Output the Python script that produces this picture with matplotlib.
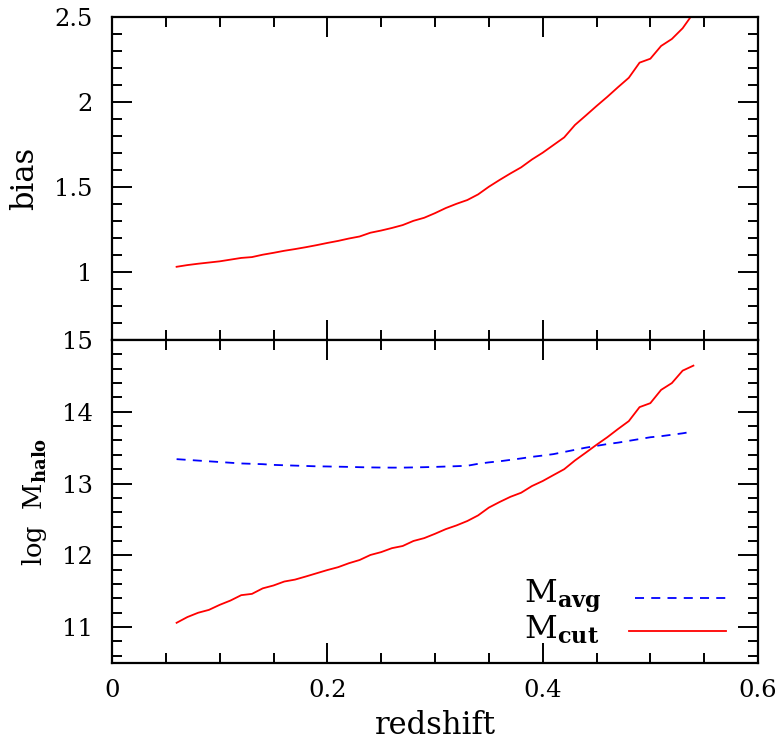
import numpy as np
import matplotlib
matplotlib.use("Agg")
import matplotlib.pyplot as plt
from matplotlib.ticker import MultipleLocator

plt.rcParams['font.family'] = ['DejaVu Serif']
plt.rcParams['mathtext.fontset'] = 'custom'
plt.rcParams['mathtext.rm'] = 'DejaVu Serif'
plt.rcParams['mathtext.bf'] = 'DejaVu Serif:bold'

redshift = np.round(np.arange(0.06, 0.545, 0.01), 2)

bias = [1.030, 1.040, 1.048, 1.055, 1.062, 1.072, 1.082, 1.087, 1.101, 1.112,
        1.124, 1.134, 1.145, 1.157, 1.170, 1.182, 1.196, 1.208, 1.230, 1.243,
        1.258, 1.275, 1.300, 1.318, 1.345, 1.375, 1.400, 1.422, 1.455, 1.500,
        1.540, 1.578, 1.614, 1.660, 1.700, 1.745, 1.790, 1.863, 1.918, 1.974,
        2.028, 2.085, 2.140, 2.229, 2.252, 2.327, 2.368, 2.431, 2.520]

m_avg = [13.34, 13.33, 13.32, 13.31, 13.30, 13.29, 13.28, 13.275, 13.27, 13.26,
         13.255, 13.25, 13.245, 13.24, 13.238, 13.235, 13.232, 13.228, 13.225, 13.223,
         13.222, 13.222, 13.225, 13.228, 13.232, 13.237, 13.242, 13.248, 13.275, 13.295,
         13.31, 13.33, 13.35, 13.372, 13.39, 13.41, 13.44, 13.47, 13.50, 13.525,
         13.55, 13.57, 13.595, 13.62, 13.645, 13.66, 13.68, 13.70, 13.725]

m_cut = [11.06, 11.14, 11.20, 11.24, 11.31, 11.37, 11.445, 11.463, 11.54, 11.58,
         11.635, 11.662, 11.705, 11.75, 11.795, 11.835, 11.89, 11.935, 12.005, 12.045,
         12.10, 12.13, 12.20, 12.24, 12.30, 12.365, 12.417, 12.478, 12.556, 12.665,
         12.743, 12.815, 12.872, 12.965, 13.035, 13.118, 13.20, 13.322, 13.43, 13.54,
         13.645, 13.76, 13.87, 14.065, 14.12, 14.305, 14.40, 14.573, 14.643]

W, H = 782, 742
fig = plt.figure(figsize=(W / 100, H / 100), dpi=100)
left, right = 112 / W, 758 / W
top, mid, bot = 1 - 16.5 / H, 1 - 340 / H, 1 - 663 / H
ax1 = fig.add_axes([left, mid, right - left, top - mid])
ax2 = fig.add_axes([left, bot, right - left, mid - bot], sharex=ax1)

for ax in (ax1, ax2):
    for s in ax.spines.values():
        s.set_linewidth(1.6)
    ax.tick_params(which='both', direction='in', top=True, right=True, width=1.4)
    ax.tick_params(which='major', length=14.5, labelsize=17.5)
    ax.tick_params(axis='y', which='major', pad=14)
    ax.tick_params(axis='x', which='major', pad=11.5)
    ax.tick_params(which='minor', length=7)
    ax.xaxis.set_major_locator(MultipleLocator(0.2))
    ax.xaxis.set_minor_locator(MultipleLocator(0.05))

ax1.plot(redshift, bias, color='red', lw=1.3)
ax1.set_xlim(0, 0.6)
ax1.set_ylim(0.6, 2.5)
ax1.set_yticks([1, 1.5, 2, 2.5])
ax1.set_yticklabels(['1', '1.5', '2', '2.5'])
ax1.yaxis.set_minor_locator(MultipleLocator(0.1))
ax1.tick_params(labelbottom=False)
ax1.set_ylabel('bias', fontsize=22, labelpad=10)

ax2.plot(redshift, m_avg, color='blue', lw=1.3, dashes=(5, 4))
ax2.plot(redshift, m_cut, color='red', lw=1.3)
ax2.set_ylim(10.5, 15)
ax2.set_yticks([11, 12, 13, 14, 15])
ax2.set_yticklabels(['11', '12', '13', '14', '15'])
ax2.yaxis.set_minor_locator(MultipleLocator(0.2))
ax2.set_xticks([0, 0.2, 0.4, 0.6])
ax2.set_xticklabels(['0', '0.2', '0.4', '0.6'])
ax2.set_xlabel('redshift', fontsize=22, labelpad=6)
ax2.set_ylabel(r'log  M$_{\mathbf{halo}}$', fontsize=18.5, labelpad=9)

# legend drawn by hand, SM style
ax2.text(0.638, 0.188, r'M$_{\mathbf{avg}}$', transform=ax2.transAxes,
         fontsize=23, ha='left', va='baseline')
ax2.text(0.638, 0.075, r'M$_{\mathbf{cut}}$', transform=ax2.transAxes,
         fontsize=23, ha='left', va='baseline')
ax2.plot([0.81, 0.95], [0.2, 0.2], transform=ax2.transAxes,
         color='blue', lw=1.3, dashes=(5, 4))
ax2.plot([0.801, 0.95], [0.1, 0.1], transform=ax2.transAxes,
         color='red', lw=1.3)

fig.savefig('out.png', dpi=100)
